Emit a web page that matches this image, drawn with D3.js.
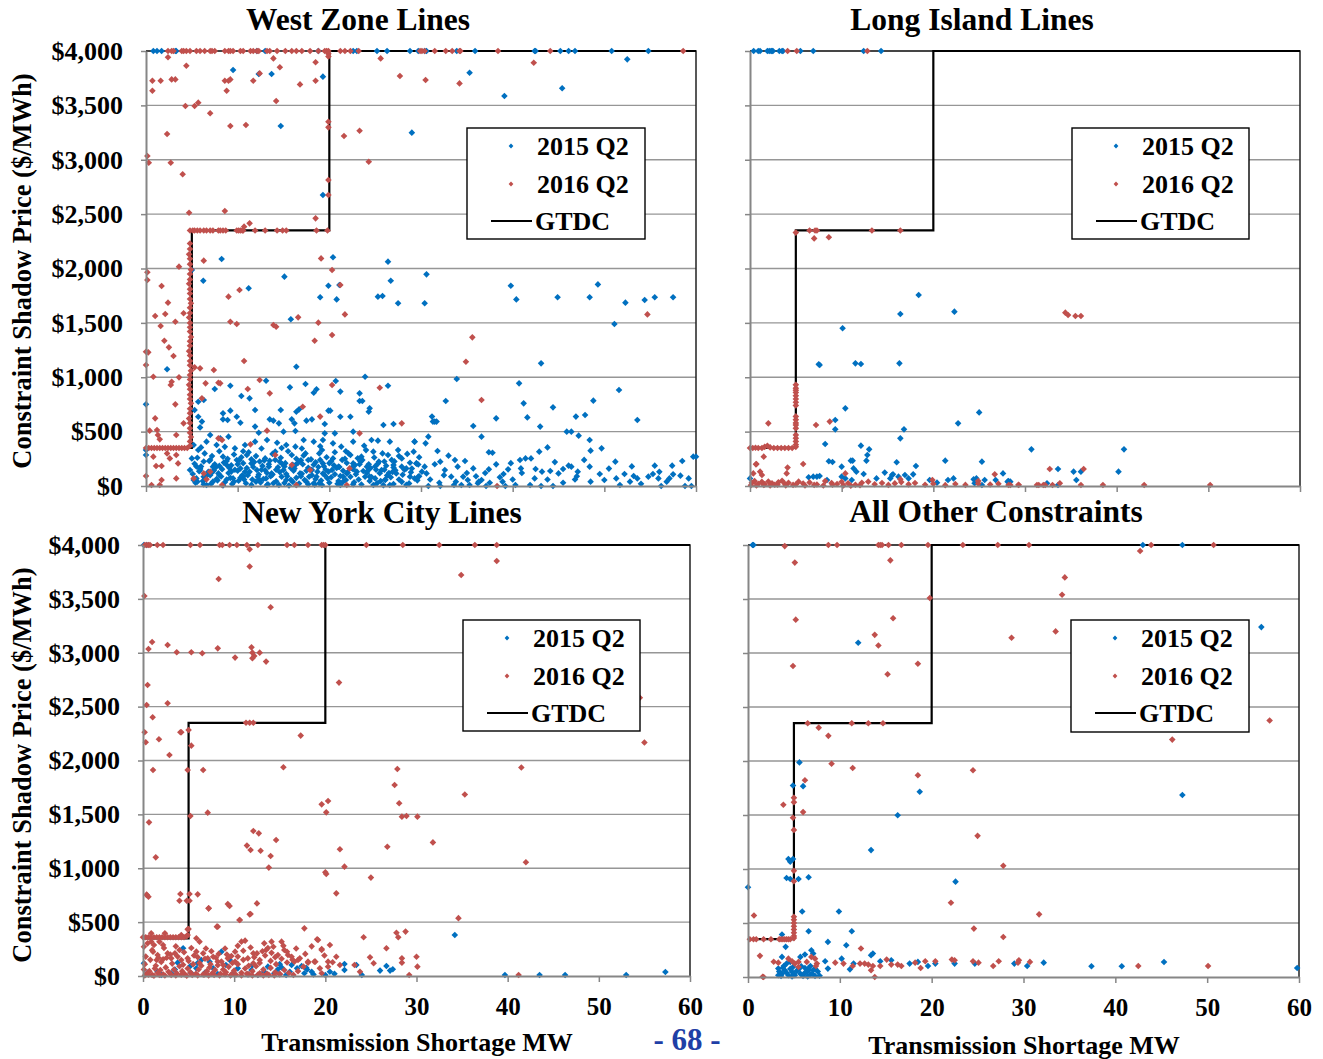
<!DOCTYPE html>
<html>
<head>
<meta charset="utf-8">
<script src="https://cdn.jsdelivr.net/npm/d3@7"></script>
<style>
  body { margin: 0; background: #fff; }
  svg text { font-family: "Liberation Serif", "Times New Roman", serif; font-weight: bold; }
</style>
</head>
<body>
<div id="chart"></div>
<script>
// ---- data ----
var xTicks = [0, 10, 20, 30, 40, 50, 60];
var yTicks = [0, 500, 1000, 1500, 2000, 2500, 3000, 3500, 4000];
var seriesNames = ["2015 Q2", "2016 Q2", "GTDC"];
var panelTitles = ["West Zone Lines", "Long Island Lines", "New York City Lines", "All Other Constraints"];

// graduated transmission demand curve
var gtdcX = [0, 5, 5, 20, 20, 60];
var gtdcY = [350, 350, 2350, 2350, 4000, 4000];

// West Zone, 2015 Q2
var westQ2015 = [
  [0.8,4000],[1.2,4000],[1.7,4000],[3.2,4000],[3.3,4000],[12.1,4000],[13,4000],[18.8,4000],[22.6,4000],[23,4000],
  [25.2,4000],[26.3,4000],[28.8,4000],[29.7,4000],[30.4,4000],[30.6,4000],[33.9,4000],[35.9,4000],[42.4,4000],
  [42.5,4000],[45.2,4000],[46.1,4000],[46.8,4000],[50.8,4000],[54.8,4000],
  [9.5,3825],[12.3,3788],[13.7,3788],[14.7,3310],[19.3,3764],[19.3,2676],[29,3249],[35.3,3800],[39.1,3586],[45.4,3657],[52.5,3923],
  [8.25,2087],[5,1986],[6.25,1888],[11.2,1818],[15.1,1925],[20.4,2103],[19.9,1842],[21.1,1848],[19,1735],[20.8,1716],
  [26.4,2063],[26.7,1888],[25.3,1741],[25.8,1747],[27.5,1680],[15.8,1533],[16.4,1097],[2.3,1073],[23.9,1005],[0,751],
  [30.6,1946],[30.4,1680],[39.8,1842],[40.4,1716],[44.9,1735],[48.4,1735],[49.3,1854],[52.3,1686],[51.1,1490],[54.4,1710],
  [55.5,1735],[57.5,1735],[43.1,1128],[33.9,984],[40.7,944],[51.6,883],[32.7,782],[41.2,760],[48.8,785],[31.2,638],
  [31.5,592],[38.2,622],[41.6,631],[44.4,723],[46.9,638],[47.9,653],[53.6,607],[35.7,552],[43,546],[45.9,500],[46.4,500],
  [47.2,463],[36.6,454],[30.8,454],[48.4,423],[49.7,346],[48.5,325],[43.8,355],[42.9,316],[59.7,270],[37.8,306],
  [51.2,224],[55.5,187],[57.4,187],
  [13.1,968],[9.2,922],[15.7,907],[17.4,938],[20.7,965],[26.4,922],[18.3,858],[18.6,889],[21.2,868],[23.3,852],
  [10.4,828],[11.3,806],[7.5,892],[5.7,775],[6.3,791],[23.3,782],[23.6,782],[24.4,714],[24.3,683],[20.1,693],[19.9,693],
  [11.9,699],[14.7,699],[16.4,683],[16.7,705],[8.4,668],[9.2,693],[8.4,613],[8.9,607],[9.9,637],[13.5,613],[13.9,601],
  [15.9,613],[16.2,576],[14.5,576],[17.5,601],[18.1,613],[21.2,637],[22.3,637],[19.5,570],[5.7,637],[6.1,592],[5.3,699],
  [5.9,539],[10.3,582],[25.9,561],[27,570],[11.9,546],[15,500],[16.3,506],[22.6,500],[20.6,484],[19.5,484],[12.3,490],
  [7,469],[8.1,438],[9,454],[6.6,408],[7.7,377],[9.7,346],[10.8,377],[11.9,408],[13.2,423],[14.3,398],[15.3,377],
  [16.3,362],[17.2,423],[18.3,408],[19.3,423],[20.4,392],[21.3,362],[22.6,408],[24.6,423],[25.3,417],[26.6,408],[29.3,408],
  [5.2,377],[5.7,331],[5,254],[4.8,147],[5.2,55],[5.9,147],[6.3,86],[7,239],[7.3,178],[7.9,116],[8.4,270],[8.8,193],
  [9.3,132],[9.9,239],[10.3,162],[10.6,86],[11,285],[11.5,208],[12.1,147],[12.4,55],[13,254],[13.4,178],[13.7,116],
  [14.1,316],[14.6,224],[15,147],[15.3,55],[15.9,285],[16.3,193],[16.8,116],[17.4,300],[17.7,239],[18.1,147],[18.6,86],
  [19.2,331],[19.3,208],[19.9,132],[20.4,254],[21,178],[21.5,86],[22.1,300],[22.6,208],[23,132],[23.5,270],[24.1,178],
  [24.4,86],[24.8,316],[25.4,224],[25.7,147],[26.1,55],[26.4,285],[27,193],[27.3,116],[27.9,254],[28.4,162],[28.8,86],
  [29.2,316],[29.5,208],[19.2,9],[18.3,25],[21.2,9],[6.6,9],[16.4,9],[13.2,9],[24.8,9],[26.6,9],[0,285],[0,331],
  [5.4,30],[6.2,45],[7.1,20],[7.8,52],[8.6,35],[9.4,18],[10.1,48],[10.9,25],[11.6,60],[12.5,32],[13.3,15],[14.2,44],
  [15.1,28],[15.8,58],[16.7,22],[17.5,40],[18.4,12],[19.1,50],[20,30],[20.9,20],[21.8,55],[22.7,35],[23.5,14],[24.4,46],
  [25.2,26],[26.1,60],[27,18],[27.9,38],[28.7,24],[29.6,52],
  [5.1,110],[5.8,135],[6.6,95],[7.4,142],[8.2,88],[9,120],[9.7,150],[10.5,98],[11.3,130],[12.2,84],[13,145],[13.8,105],
  [14.6,128],[15.4,90],[16.1,140],[17,112],[17.8,86],[18.7,132],[19.5,100],[20.3,148],[21.2,92],[22,125],[22.9,108],
  [23.7,138],[24.6,82],[25.5,118],[26.3,96],[27.2,144],[28,104],[28.9,126],[29.8,90],
  [5.3,205],[6,180],[6.9,230],[7.6,170],[8.5,215],[9.3,190],[10.2,240],[11,165],[11.8,220],[12.7,185],[13.5,232],
  [14.4,172],[15.2,210],[16,195],[16.9,236],[17.7,168],[18.5,218],[19.4,182],[20.2,228],[21.1,175],[21.9,212],[22.8,192],
  [23.6,238],[24.5,166],[25.3,206],[26.2,186],[27.1,226],[27.9,178],[28.8,214],[29.7,198],
  [5.6,260],[6.4,300],[7.2,275],[8,320],[8.9,250],[9.6,290],[10.4,265],[11.2,310],[12,275],[12.9,235],[13.8,295],
  [14.7,260],[15.5,320],[16.4,250],[17.2,280],[18,245],[18.9,300],[19.7,265],[20.6,310],[21.4,240],[22.3,285],[23.1,255],
  [24,330],[24.9,262],[25.8,300],[26.8,240],[27.6,275],[28.5,295],
  [5.5,70],[6.3,15],[7,100],[7.7,65],[8.4,5],[9.2,75],[10,140],[10.7,60],[11.5,10],[12.3,105],[13.1,70],[13.9,25],
  [14.8,85],[15.6,5],[16.4,75],[17.3,55],[18.1,100],[18.9,25],[19.8,70],[20.6,108],[21.5,40],[22.3,85],[23.2,60],
  [24.1,120],[25,70],[25.9,8],[26.7,80],[27.6,60],[28.4,10],[29.3,70],
  [5.9,160],[6.8,130],[7.5,200],[8.3,155],[9.1,165],[10,200],[10.8,130],[11.7,175],[12.6,150],[13.4,200],[14.2,150],
  [15.1,180],[16.2,160],[17.1,200],[18,150],[18.8,175],[19.6,150],[20.5,190],[21.5,140],[22.4,165],[23.3,200],[24.2,140],
  [25,180],[26,150],[27,170],[28.2,150],[29,160],
  [5.6,40],[6.5,65],[7.3,40],[8,100],[8.8,60],[9.6,40],[10.3,75],[11.1,100],[12,40],[12.8,65],[13.6,90],[14.5,10],
  [15.3,110],[16,40],[16.9,90],[17.7,15],[18.5,65],[19.3,115],[20.2,80],[21,45],[21.9,115],[22.6,15],[23.9,85],
  [25.6,45],[26.5,120],
  [5.5,180],[6.3,225],[7.2,125],[8,185],[8.8,230],[9.5,70],[10.6,210],[11.5,245],[12.4,225],[13.2,120],[14.1,240],
  [14.9,200],[15.8,165],[16.6,215],[17.5,140],[18.3,195],[19,240],[20,210],[20.8,165],[21.7,250],[22.6,155],[23.4,225],
  [24.3,200],[25.1,150],[26,225],[26.9,130],
  [6,355],[8.6,360],[10.6,320],[12.6,345],[14.8,350],[17,345],[19,365],[21.8,320],[23.8,370],[27.5,330],
  [29.8,264],[33,279],[32.1,224],[32.6,147],[30.4,178],[30.6,116],[33.7,239],[34,178],[34.6,86],[35.7,162],[36.6,55],
  [37.4,153],[38.2,199],[38.6,80],[39.5,153],[40.8,239],[41.4,254],[42,254],[40.9,162],[42.4,70],[42.5,156],[43.2,132],
  [44.1,138],[45,116],[45.5,156],[46.1,187],[46.4,178],[47.1,132],[48.4,178],[50,55],[51.3,70],[52.2,110],[53.2,92],
  [53.6,70],[54.8,86],[55.9,70],[57.1,70],[57.5,107],[59.2,70],[30.8,0],[32.1,0],[33.6,9],[34.4,9],[35.1,55],[35.3,9],
  [37.1,0],[39.2,0],[40.3,9],[41.9,9],[43.1,0],[44.4,0],[51.7,9],[56.2,0],[58.8,0],[59.5,0],[33.3,86],[36.2,25],
  [36.3,40],[38.9,40],[29.7,86],[30.1,132],[29.5,208],[31.8,322],[37.4,310],[30.5,392],[29.3,408],[60,270],[31.3,592],[31.7,592],
  [31,60],[32.5,100],[33.8,40],[35,120],[36,90],[37.5,30],[39,110],[40,60],[41,120],[43.8,60],[45.5,30],[47,90],
  [48.5,40],[49.5,110],[52.8,40],[54,20],[55.3,110],[56.8,40],[58.3,95],[31.5,200],[34.8,230],[39.8,210],[44.6,220],
  [47.8,240],[50.5,160],[53,180],[56,130],[58.5,230],[32,30],[37,120],[46.8,60]
];

// West Zone, 2016 Q2
var westQ2016 = [
  [2.4,4000],[2.8,4000],[3,4000],[3.9,4000],[4.1,4000],[4.4,4000],[4.8,4000],[5.5,4000],[5.9,4000],[6.4,4000],[7,4000],
  [7.2,4000],[7.5,4000],[8.6,4000],[9,4000],[9.2,4000],[9.5,4000],[10.3,4000],[10.6,4000],[11.4,4000],[11.7,4000],
  [12.1,4000],[12.3,4000],[13.2,4000],[13.5,4000],[14.3,4000],[15.2,4000],[15.9,4000],[16.4,4000],[17,4000],[17.9,4000],
  [18.8,4000],[19.5,4000],[19.7,4000],[19.9,4000],[21.2,4000],[21.7,4000],[22.3,4000],[23.2,4000],[29.9,4000],[30.1,4000],
  [30.4,4000],[31.5,4000],[32.7,4000],[33.4,4000],[34.2,4000],[34.3,4000],[38.4,4000],[44.1,4000],[58.6,4000],
  [19.9,3975],[19.9,3950],[42.3,3892],
  [2.4,3942],[13.9,3932],[18.5,3896],[25.6,3932],[14.6,3850],[4.4,3865],[0.7,3727],[1.6,3727],[2.8,3739],[3.2,3739],
  [8.6,3727],[9,3727],[9.2,3739],[11.7,3727],[12.4,3794],[16.8,3693],[18.5,3727],[27.7,3770],[0.7,3635],[8.8,3635],
  [5.7,3525],[5.3,3494],[4.3,3494],[14.2,3540],[7,3427],[2.3,3237],[9.2,3310],[10.9,3319],[19.9,3350],[19.9,3298],
  [21.6,3218],[23.3,3267],[0.15,3034],[0.3,2973],[2.7,2973],[24.3,2982],[4,2866],[19.9,2814],[19.9,2676],[4.7,2513],
  [8.6,2529],[18.5,2461],[11.3,2415],[10.7,2385],[30.5,3733],[34.2,3702],
  [4.8,2350],[5.1,2350],[5.3,2350],[5.6,2350],[5.9,2350],[6.3,2350],[6.6,2350],[7,2350],[7.3,2350],[7.9,2350],[8.1,2350],
  [8.4,2350],[8.7,2350],[9.9,2350],[10.1,2350],[10.3,2350],[10.5,2350],[10.6,2350],[11.9,2350],[13,2350],[14.3,2350],
  [14.9,2350],[15.3,2350],[18.6,2350],[19.8,2350],
  [4.8,2230],[4.8,2180],[4.7,2130],[4.8,2090],[4.8,2040],[4.9,1990],[4.8,1950],[4.8,1900],[4.7,1860],[4.8,1810],
  [4.8,1770],[4.8,1720],[4.9,1680],[4.8,1640],[4.8,1590],[4.7,1550],[4.8,1500],[4.8,1460],[4.8,1420],[4.9,1370],
  [4.8,1330],[4.8,1290],[4.7,1240],[4.8,1200],[4.8,1150],[4.8,1110],[4.9,1060],[4.8,1020],[4.8,980],[4.7,930],
  [4.8,890],[4.8,840],[4.8,800],[4.9,760],[4.8,710],[4.8,670],[4.7,620],[4.8,580],[4.8,530],[4.8,490],[4.9,450],
  [4.8,410],[4.8,370],
  [0,350],[0.3,350],[0.6,350],[0.9,350],[1.2,350],[1.5,350],[1.8,350],[2.1,350],[2.4,350],[2.7,350],[3,350],[3.3,350],
  [3.6,350],[3.9,350],[4.2,350],[4.5,350],
  [0.15,1965],[0.15,1894],[1.7,1839],[3.6,2017],[6.3,2072],[2.4,1686],[1,1563],[2.1,1582],[3.2,1511],[4.1,1588],
  [1.6,1471],[2,1336],[2.5,1275],[0,1235],[0.25,1229],[3,1195],[0,1113],[0.8,1005],[3.6,999],[2.8,959],[2.7,929],
  [3.2,751],[1,622],[4.1,576],[0.4,509],[1.2,515],[1.3,469],[1.5,429],[3.3,469],[0.8,270],[2.3,300],[2.6,254],
  [3.3,285],[3.5,208],[1.1,184],[1.7,184],[0,92],[1.7,55],[3.3,70],[0.6,9],[1.5,9],
  [5.3,1091],[5.9,1082],[7.4,1067],[6.5,944],[7.9,950],[8.1,944],[6.1,806],[7.9,438],[8.3,423],[9,1741],[10.2,1802],
  [9.2,1511],[9.9,1490],[13.9,1480],[14.2,1465],[16.6,1551],[18.8,1502],[10.7,1149],[12.4,975],[11.1,892],[13.5,852],
  [17.1,729],[19,638],[20.3,929],[18.4,1336],[20.3,1388],[21.7,1578],[19.1,2093],[20.3,1986],[21.2,1848],[25.5,904],
  [27.9,576],[23.3,484],[13.2,509],[11.4,383],[14.1,285],[15.9,193],[17.9,147],[22.2,162],[21.9,9],[16.4,9],[8.3,9],
  [6.3,116],[6.6,61],[5.2,70],[7,132],[35.6,1367],[34.9,1143],[36.6,791],[54.7,1578],[38.3,0]
];

// Long Island, 2015 Q2
var liQ2015 = [
  [0.4,4000],[0.9,4000],[1.1,4000],[1.9,4000],[2.1,4000],[2.3,4000],[2.4,4000],[2.5,4000],[3.2,4000],[3.5,4000],
  [3.6,4000],[5.5,4000],[6.9,4000],[12.4,4000],[14.3,4000],
  [18.4,1756],[16.4,1582],[22.3,1603],[10.1,1450],[7.5,1119],[7.6,1113],[11.5,1128],[12.1,1122],[16.3,1128],
  [10.4,714],[9.3,607],[25,677],[22.7,576],[9.3,521],[16.8,521],[16.4,438],[8.2,386],[12.1,371],[13,337],[12.8,285],
  [12.7,233],[8.6,227],[9,221],[21.3,233],[25.3,224],[11,233],[11.2,233],[16,218],[18.1,184],[10,178],[11.3,162],
  [11.6,132],[14.7,123],[15.6,107],[17.8,107],[27.6,116],[30.7,337],[40.8,337],[28.1,40],[28.4,40],[32.4,25],
  [33.6,156],[33.6,9],[35.3,132],[35.6,55],[36.1,132],[40.2,132],
  [6.4,80],[6.9,86],[7.3,86],[7.6,92],[8.4,55],[10,86],[10.4,70],[11.1,55],[12.4,110],[13.8,70],[15.3,70],[16.2,86],
  [16.9,101],[17.3,70],[19.6,55],[20.4,31],[21.6,55],[22.2,70],[24.4,61],[24.7,70],[25.6,55],[26.8,55],[28.2,46],
  [0,70],[24.5,25],[25.3,9],[15.5,101]
];

// Long Island, 2016 Q2
var liQ2016 = [
  [4.1,4000],[5.1,4000],[12.8,4000],
  [5,2330],[6.5,2350],[7.1,2350],[7.3,2350],[7,2277],[8.6,2287],[13.3,2350],[16.4,2350],
  [34.4,1594],[34.7,1572],[35.5,1563],[36.1,1563],
  [5,930],[5,900],[5,880],[5,860],[5,830],[5,800],[5,770],[5,740],[5,640],[5,610],[5,580],[5,560],[5,530],[5,470],
  [5,440],[5,410],[5,380],[5,360],
  [0,350],[0.3,350],[0.6,352],[0.9,350],[1.3,350],[1.6,360],[1.9,370],[2.2,355],[2.6,350],[3,350],[3.4,350],[3.8,350],
  [4.2,350],[4.6,350],
  [2,576],[7.2,561],[8.7,592],[5.8,202],[0.65,199],[4.1,169],[4,116],[10.4,116],[26.7,107],[19.9,55],[1.5,270],
  [0.7,202],[0.36,116],[1.1,132],[1.3,101],[16.4,61],[24.9,46],[32.7,156],[36.4,156],[33.8,25],
  [0.2,30],[0.5,45],[0.9,20],[1.3,38],[1.6,15],[2,42],[2.4,25],[2.7,12],[3.1,35],[3.5,48],[3.8,20],[4.2,30],[4.7,10],
  [5.3,40],[5.8,22],[6.5,33],[7.3,14],[8.2,45],[8.9,28],[9.5,18],[10,38],[10.7,25],[11.5,12],[12.2,30],[12.9,40],
  [13.6,16],[14.4,28],[15.1,10],[15.8,24],[16.5,36],[17.3,15],[18,28],[19.1,12],[20,20],[21.3,8],[22.4,18],[23.5,10],
  [24.9,22],[26.2,14],[27.1,20],[28.2,9],[29.3,12],[31.3,9],[32,9],[28.4,9],[29.3,9],[31.5,9],[32.2,9],[33,9],[36.1,9],
  [38.5,9],[43,9],[50.2,9],
  [0.1,8],[0.7,5],[1.5,10],[2.2,4],[3,12],[3.9,6],[5,14],[6,5],[7,10],[8,4],[9,12],[10.2,6],[11,3],[12,8]
];

// New York City, 2015 Q2
var nycQ2015 = [
  [0.1,4000],[0.4,4000],
  [0.1,118],[4.4,257],[8.6,226],[6.4,149],[7.3,133],[9.1,102],[10.4,71],[11.9,56],[13.3,40],[14.8,62],[15.2,80],
  [16.3,102],[16.9,71],[17.4,93],[17.7,25],[18.5,40],[20,9],[20.5,40],[22.1,56],[22.1,111],[26.7,93],[27.1,50],
  [27.4,62],[23.4,102],[14.4,25],[15.7,9],[12.6,9],[11.5,15],[9.9,25],[8.2,19],[6.8,31],[5.3,25],[1.6,40],[3.1,25],
  [5.85,71],[5.2,93],[3.8,124],[0.5,31],[7.7,71],[13.7,87],[16.1,40],[17.9,77],[18.7,15],
  [2,10],[3.5,60],[6,120],[9.5,150],[12,100],[15,110],[18,60],[21,20],[24,10],[26,50],
  [34.2,380],[39.7,9],[43.5,9],[46.3,9],[53,9],[57.3,37]
];

// New York City, 2016 Q2
var nycQ2016 = [
  [0.2,4000],[0.4,4000],[0.6,4000],[0.77,4000],[1.57,4000],[2.2,4000],[5.2,4000],[6.25,4000],[8.4,4000],[8.7,4000],
  [9.5,4000],[10.3,4000],[11.4,4000],[11.7,3960],[12.6,4000],[15.8,4000],[16.6,4000],[18.1,4000],[19.6,4000],
  [19.8,4000],[20,4000],[24.5,4000],[28.5,4000],[32.5,4000],[36.4,4000],[38.8,4000],
  [11.7,3800],[8.3,3685],[0.15,3527],[14,3422],[1,3100],[0.6,3035],[2.7,3072],[3.7,3004],[5.3,3004],[6.5,2995],
  [8.2,3041],[11.9,3050],[12,3001],[12.2,2970],[12,2949],[12.8,3001],[10.1,2955],[13.5,2918],[21.5,2723],[0.5,2701],
  [0.4,2515],[2.7,2531],[1.06,2401],[4.1,2262],[4.2,2262],[5,2283],[0.18,2262],[0.3,2169],[1.75,2197],[5.3,2138],
  [11.3,2350],[11.7,2350],[12.1,2350],[17.3,2231],[2.9,2051],[1.1,1912],[4.9,1912],[6.6,1912],[15.4,1937],[27.9,1921],
  [27.6,1773],[28.1,1603],[28.4,1479],[28.9,1485],[30.1,1479],[5.2,1485],[7.1,1516],[0.66,1426],[12.1,1346],
  [12.7,1324],[14.6,1262],[19.6,1593],[20.3,1624],[20.1,1519],[11.4,1210],[11.8,1170],[12.9,1163],[21.6,1176],
  [26.8,1200],[14,1114],[13.8,1006],[22.1,1015],[20,962],[20.1,947],[1.4,1101],[25,913],[21.2,767],[0.4,752],
  [0.6,736],[4.1,761],[4,699],[4.8,699],[5.1,699],[5.1,761],[6,758],[7.2,628],[9.3,668],[9.5,650],[12.5,674],
  [11.7,572],[10.6,520],[8.2,458],[5,436],[17.7,442],[27.8,402],[28,359],[28.8,412],[24.2,359],[19.1,340],[19.6,251],
  [20.5,288],[26.7,257],[21.2,179],[24.9,173],[25.3,118],[28.4,164],[28.4,124],[30,179],[30.1,87],[23.8,40],[29.2,9],
  [23.2,102],[21.6,102],[20.8,127],[20.3,87],[19.6,25],[18.9,133],[18.1,124],[17.6,87],[17,149],
  [34.9,3722],[38.8,3852],[41.5,1935],[42,1055],[35.3,1685],[34.6,537],[55,2167],[54.5,2583],[31.8,1240],[41.2,9],
  [0,359],[0.3,359],[0.6,359],[0.9,359],[1.2,359],[1.5,359],[1.8,359],[2.1,359],[2.4,359],[2.7,359],[3,359],[3.3,359],
  [3.6,359],[3.9,359],[4.2,359],[4.5,359],[4.8,370],
  [1.1,226],[1.6,195],[1.5,149],[2.2,155],[2.7,210],[3.1,164],[3.5,210],[4,241],[4.2,149],[4.9,164],[5.85,350],
  [6.2,319],[5.85,226],[6.6,210],[7.1,164],[7.7,179],[8.2,133],[8.8,102],[9.3,164],[10.1,226],[10.1,133],[10.8,319],
  [11.2,328],[11.5,164],[12.1,210],[12.1,118],[12.8,149],[13.3,303],[13.5,241],[14.1,319],[14.3,272],[14.8,195],
  [15.2,319],[15.5,241],[15.9,195],[16.3,179],[16.6,133],[17.2,164],[18.1,133],[18.8,133],[19.2,334],[19.6,241],
  [20.3,133],[19.4,71],[0.1,272],[0.5,303],[0.9,319],[1.2,288],[1.8,319],[2.2,288],[2.4,396],[0.9,396],[4.2,381],
  [4.9,381],[4.9,433],[8.1,458],[10.6,520],[11.8,575],[7.2,628],[0.4,755],
  [0.1,60],[0.4,20],[0.7,45],[1,10],[1.3,70],[1.6,30],[1.9,55],[2.2,15],[2.5,80],[2.8,40],[3.1,10],[3.4,60],[3.7,25],
  [4,90],[4.3,45],[4.6,15],[4.9,70],[5.2,35],[5.5,110],[5.8,20],[6.1,60],[6.4,95],[6.7,12],[7,45],[7.3,80],[7.6,25],
  [7.9,55],[8.2,100],[8.5,20],[8.8,60],[9.1,35],[9.4,85],[9.7,15],[10,50],[10.4,110],[10.8,30],[11.2,70],[11.6,15],
  [12,45],[12.4,90],[12.8,25],[13.2,60],[13.6,20],[14,75],[14.5,35],[15,15],[15.5,55],[16,28],[16.5,10],[17,45],
  [0.2,110],[0.8,150],[1.4,95],[2,130],[2.6,170],[3.2,115],[3.8,180],[4.4,105],[5,140],[5.6,190],[6.2,120],[6.8,160],
  [7.4,110],[8,170],[8.6,135],[9.2,200],[9.8,120],[10.4,180],[11,150],[11.6,95],[12.2,175],[12.8,120],[13.4,190],
  [14,140],[14.6,110],[15.2,160],[15.8,125],[16.4,150],[13.1,230],[14.1,215],[15.4,280],
  [0.3,180],[1,240],[1.7,170],[2.3,260],[3,200],[3.6,275],[4.5,220],[5.3,260],[6,175],[6.9,255],[7.5,230],[8.3,205],
  [9,255],[9.7,185],[10.4,280],[11,235],[11.8,265],[12.5,210],[13.7,260],[14.5,175],[15.8,225],[16.8,255],[17.8,205],
  [18.5,275],[19.9,190],
  [0.2,5],[0.6,12],[1.2,3],[1.8,10],[2.4,5],[3,20],[3.6,5],[4.2,12],[4.8,3],[5.4,10],[6,6],[6.6,15],[7.2,4],[7.8,10],
  [8.4,5],[9,15],[9.6,4],[10.2,12],[10.8,5],[11.4,20],[12,5],[12.6,12],[13.2,4],[13.8,10],[14.4,6],[15,20]
];

// All Other Constraints, 2015 Q2
var otherQ2015 = [
  [0.5,4000],[0.6,4000],[43,4000],[47.3,4000],
  [12,3095],[5.6,1987],[4.9,1773],[6,1767],[18.7,1715],[16.3,1497],[13.4,1175],[4.4,1092],[4.6,1067],[4.9,1092],
  [4.2,917],[4.6,908],[5.5,908],[6.6,923],[0,831],[22.6,883],[5.9,607],[9.9,607],[6.6,423],[11.3,423],[3.7,393],
  [4.1,279],[8.7,325],[10.7,294],[13.6,218],[13.4,202],[55.9,3240],[47.3,1685],[45.3,139],[59.8,83],[37.4,100],[40.7,100],
  [3.7,186],[5.7,186],[6.2,208],[6.9,248],[7.1,217],[6.6,62],[7.3,78],[8.4,146],[8.7,78],[10.2,170],[11.1,71],
  [11.5,124],[14.4,146],[15.6,155],[17.6,124],[18.5,140],[19.6,102],[20.4,124],[22.5,124],[24.7,124],[29,124],
  [30.4,102],[32.2,133],
  [3.3,78],[3.7,31],[4.0,62],[4.4,16],[4.8,47],[5.1,16],[5.5,71],[5.7,31],[6.0,9],[6.4,47],[6.8,22],[7.1,62],[7.3,9],
  [3.3,16],[3.9,102],[4.9,93],[6.2,84],[4.2,124],[4.6,140],[6.8,102],
  [3.4,50],[3.8,85],[4.2,40],[4.6,75],[5,25],[5.3,55],[5.8,100],[6.2,40],[6.6,80],[7,30],[7.6,50],[3.6,10],[4.8,5],
  [6.5,5],[7.8,12]
];

// All Other Constraints, 2016 Q2
var otherQ2016 = [
  [4,3990],[8.75,4000],[9.7,4000],[14.2,4000],[14.4,4000],[14.6,4000],[15.3,4000],[16.7,4000],[19.6,4000],[23.4,4000],
  [27.2,4000],[30.6,4000],[43.9,4000],[50.7,4000],
  [5.1,3837],[15.5,3858],[19.8,3509],[5.2,3309],[15.8,3322],[13.8,3168],[14.2,3070],[28.7,3141],[4.9,2880],[18.5,2901],
  [15.2,2803],[6.5,2349],[7.7,2309],[8.75,2233],[11.3,2349],[13.1,2349],[14.7,2349],[9.1,1975],[11.4,1935],[6.2,1822],
  [18.5,1868],[24.5,1914],[3.85,1595],[5,1659],[5,1619],[6,1527],[4.9,1475],[5,1362],[25,1307],[27.8,1030],[5,984],
  [5,886],[22.1,687],[0.65,570],[31.7,580],[24.6,448],[27.8,371],[1.3,196],[2.8,141],[1.6,3],[12.3,264],
  [42.7,3944],[34.5,3700],[34.2,3540],[33.5,3200],[46.2,2198],[56.8,2375],[50.1,102],[42.5,102],
  [0.2,350],[0.6,350],[0.9,350],[1.7,350],[2.5,350],[3.4,350],[3.6,350],[3.8,350],[4,350],[4.2,350],[4.4,350],[4.6,350],
  [5,558],[5,530],[5,500],[5,470],[5,440],[5,410],[5,380],[5,360],
  [4.4,170],[5.1,124],[5.5,93],[4.8,146],[5.5,140],[6.4,140],[6.9,186],[7.3,170],[7.5,124],[7.4,102],[9.5,133],
  [10.4,124],[11.4,102],[12.2,124],[12.7,124],[13.1,115],[13.4,62],[13.6,102],[13.8,0],[14.4,102],[15.1,161],[15.6,115],
  [16.3,115],[16.7,102],[18.2,133],[18.8,84],[19.3,146],[20.4,146],[22.2,161],[22.5,155],[24.5,146],[25.1,133],
  [26.7,102],[27.3,146],[29.4,133],[29.5,155],[30.7,140],[1.7,0],[3.3,133]
];

// ---- layout ----
var width = 1323, height = 1059;
var blue = "#0070C0", red = "#C0504D";

var panels = [
  { title: panelTitles[0], blueData: westQ2015, redData: westQ2016, left: 146, right: 696, top: 51, bottom: 486,
    titleX: 358, titleY: 30, yLabels: true, xLabels: false, legend: [467, 128, 178, 111] },
  { title: panelTitles[1], blueData: liQ2015, redData: liQ2016, left: 750, right: 1300, top: 51, bottom: 486,
    titleX: 972, titleY: 30, yLabels: false, xLabels: false, legend: [1072, 128, 177, 111] },
  { title: panelTitles[2], blueData: nycQ2015, redData: nycQ2016, left: 143, right: 690, top: 545, bottom: 976,
    titleX: 382, titleY: 523, yLabels: true, xLabels: true, legend: [463, 620, 177, 111] },
  { title: panelTitles[3], blueData: otherQ2015, redData: otherQ2016, left: 748, right: 1299, top: 545, bottom: 977,
    titleX: 996, titleY: 522, yLabels: false, xLabels: true, legend: [1071, 620, 178, 112] }
];

var svg = d3.select("#chart").append("svg")
    .attr("width", width)
    .attr("height", height);

// diamond marker like the excel one
function diamond(r) {
  return "M0," + (-r) + "L" + r + ",0L0," + r + "L" + (-r) + ",0Z";
}

var fmtDollar = function (d) { return "$" + d3.format(",")(d); };

panels.forEach(function (p) {
  var x = d3.scaleLinear().domain([0, 60]).range([p.left, p.right]);
  var y = d3.scaleLinear().domain([0, 4000]).range([p.bottom, p.top]);
  var g = svg.append("g");

  // gridlines
  g.selectAll(".grid")
    .data(yTicks.filter(function (d) { return d > 0; }))
    .enter().append("line")
    .attr("x1", p.left).attr("x2", p.right)
    .attr("y1", function (d) { return y(d); })
    .attr("y2", function (d) { return y(d); })
    .attr("stroke", "#969696")
    .attr("stroke-width", 1.4);

  // plot area border (top + right show dark)
  g.append("path")
    .attr("d", "M" + p.left + "," + p.top + "H" + p.right + "V" + p.bottom)
    .attr("fill", "none")
    .attr("stroke", "#222")
    .attr("stroke-width", 1.5);

  // GTDC step line
  var line = d3.line()
    .x(function (d) { return x(d[0]); })
    .y(function (d) { return y(d[1]); });
  g.append("path")
    .datum(d3.zip(gtdcX, gtdcY))
    .attr("d", line)
    .attr("fill", "none")
    .attr("stroke", "#000")
    .attr("stroke-width", 2.2);

  // scatter: 2015 first, 2016 on top
  [[p.blueData, blue], [p.redData, red]].forEach(function (s) {
    g.append("g").selectAll("path")
      .data(s[0])
      .enter().append("path")
      .attr("d", diamond(3.3))
      .attr("transform", function (d) { return "translate(" + x(d[0]) + "," + y(d[1]) + ")"; })
      .attr("fill", s[1]);
  });

  // axes
  var yAxis = d3.axisLeft(y).tickValues(yTicks).tickSize(5).tickSizeOuter(0).tickPadding(18)
    .tickFormat(p.yLabels ? fmtDollar : "");
  var gy = g.append("g").attr("transform", "translate(" + p.left + ",0)").call(yAxis);
  var xAxis = d3.axisBottom(x).tickValues(xTicks).tickSize(6).tickSizeOuter(0).tickPadding(15)
    .tickFormat(p.xLabels ? d3.format("d") : "");
  var gx = g.append("g").attr("transform", "translate(0," + p.bottom + ")").call(xAxis);
  [gx, gy].forEach(function (a) {
    a.select(".domain").attr("stroke", "#868686").attr("stroke-width", 2);
    a.selectAll(".tick line").attr("stroke", "#868686").attr("stroke-width", 1.5);
    a.selectAll(".tick text").attr("fill", "#000")
      .style("font-size", a === gy ? "26px" : "25px")
      .style("font-family", "'Liberation Serif', 'Times New Roman', serif")
      .style("font-weight", "bold");
  });

  // title
  svg.append("text")
    .attr("x", p.titleX).attr("y", p.titleY)
    .attr("text-anchor", "middle")
    .style("font-size", "31.5px")
    .text(p.title);

  // legend
  var L = p.legend;
  var lg = svg.append("g").attr("transform", "translate(" + L[0] + "," + L[1] + ")");
  lg.append("rect")
    .attr("width", L[2]).attr("height", L[3])
    .attr("fill", "#fff").attr("stroke", "#000").attr("stroke-width", 1.4);
  var rows = [18, 56, 93];
  lg.append("path").attr("d", diamond(2.4)).attr("transform", "translate(44," + rows[0] + ")").attr("fill", blue);
  lg.append("path").attr("d", diamond(2.4)).attr("transform", "translate(44," + rows[1] + ")").attr("fill", red);
  lg.append("line").attr("x1", 24).attr("x2", 65).attr("y1", rows[2]).attr("y2", rows[2])
    .attr("stroke", "#000").attr("stroke-width", 2);
  seriesNames.forEach(function (name, i) {
    lg.append("text")
      .attr("x", i === 2 ? 68 : 70).attr("y", rows[i] + 9)
      .style("font-size", "26px")
      .text(name);
  });
});

// axis titles
[271, 765].forEach(function (cy) {
  svg.append("text")
    .attr("transform", "translate(31," + cy + ") rotate(-90)")
    .attr("text-anchor", "middle")
    .style("font-size", "26.5px")
    .text("Constraint Shadow Price ($/MWh)");
});
[[417, 1051], [1024, 1054]].forEach(function (c) {
  svg.append("text")
    .attr("x", c[0]).attr("y", c[1])
    .attr("text-anchor", "middle")
    .style("font-size", "26px")
    .text("Transmission Shortage MW");
});

// page number
svg.append("text")
  .attr("x", 687).attr("y", 1050)
  .attr("text-anchor", "middle")
  .attr("fill", "#1f3fa6")
  .style("font-size", "31px")
  .text("- 68 -");
</script>
</body>
</html>
